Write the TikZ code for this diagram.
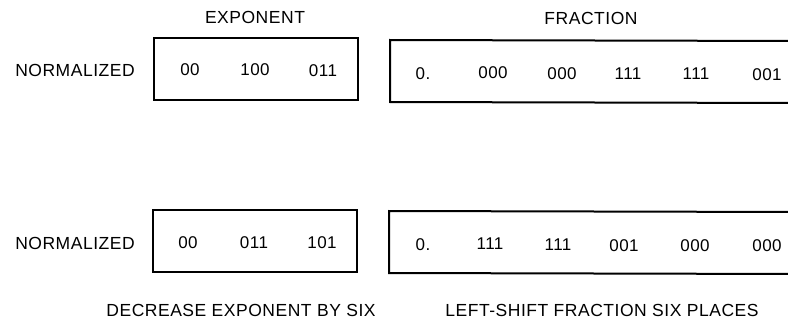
\documentclass[tikz,border=0pt]{standalone}
\usepackage{fontspec}
\setmainfont{Liberation Sans}[LetterSpace=3]
\begin{document}
\begin{tikzpicture}[x=1pt,y=-1pt,
  lbl/.style={font=\fontsize{17.5}{20}\selectfont, inner sep=0pt, anchor=center},
  num/.style={font=\fontsize{17}{20}\selectfont, inner sep=0pt, anchor=center},
  boxline/.style={line width=2pt, line join=miter}]
\useasboundingbox (0,0) rectangle (788,324);
% headers
\node[lbl] (hexp) at (255,17) {EXPONENT};
\node[lbl] (hfrac) at (591,18) {FRACTION};
% top row
\node[lbl] (n1) at (75,70) {NORMALIZED};
\draw[boxline] (154,38) rectangle (358,100);
\node[num] (e11) at (190,70) {00};
\node[num] (e12) at (255,70) {100};
\node[num] (e13) at (323,71) {011};
\draw[boxline] (800,41) -- (390,40) -- (390,102) -- (800,103);
\node[num] (f10) at (423,74) {0.};
\node[num] (f11) at (493,73) {000};
\node[num] (f12) at (562,74) {000};
\node[num] (f13) at (628,74) {111};
\node[num] (f14) at (696,74) {111};
\node[num] (f15) at (767,75) {001};
% bottom row
\node[lbl] (n2) at (75,243) {NORMALIZED};
\draw[boxline] (153,210) rectangle (357,272);
\node[num] (e21) at (188,243) {00};
\node[num] (e22) at (254,243) {011};
\node[num] (e23) at (322,243) {101};
\draw[boxline] (800,212) -- (389,211) -- (389,273) -- (800,274);
\node[num] (f20) at (423,245) {0.};
\node[num] (f21) at (490,244) {111};
\node[num] (f22) at (558,245) {111};
\node[num] (f23) at (624,246) {001};
\node[num] (f24) at (695,246) {000};
\node[num] (f25) at (767,246) {000};
% captions
\node[lbl] (c1) at (241,310) {DECREASE EXPONENT BY SIX};
\node[lbl] (c2) at (602,310) {LEFT-SHIFT FRACTION SIX PLACES};
\end{tikzpicture}
\end{document}
